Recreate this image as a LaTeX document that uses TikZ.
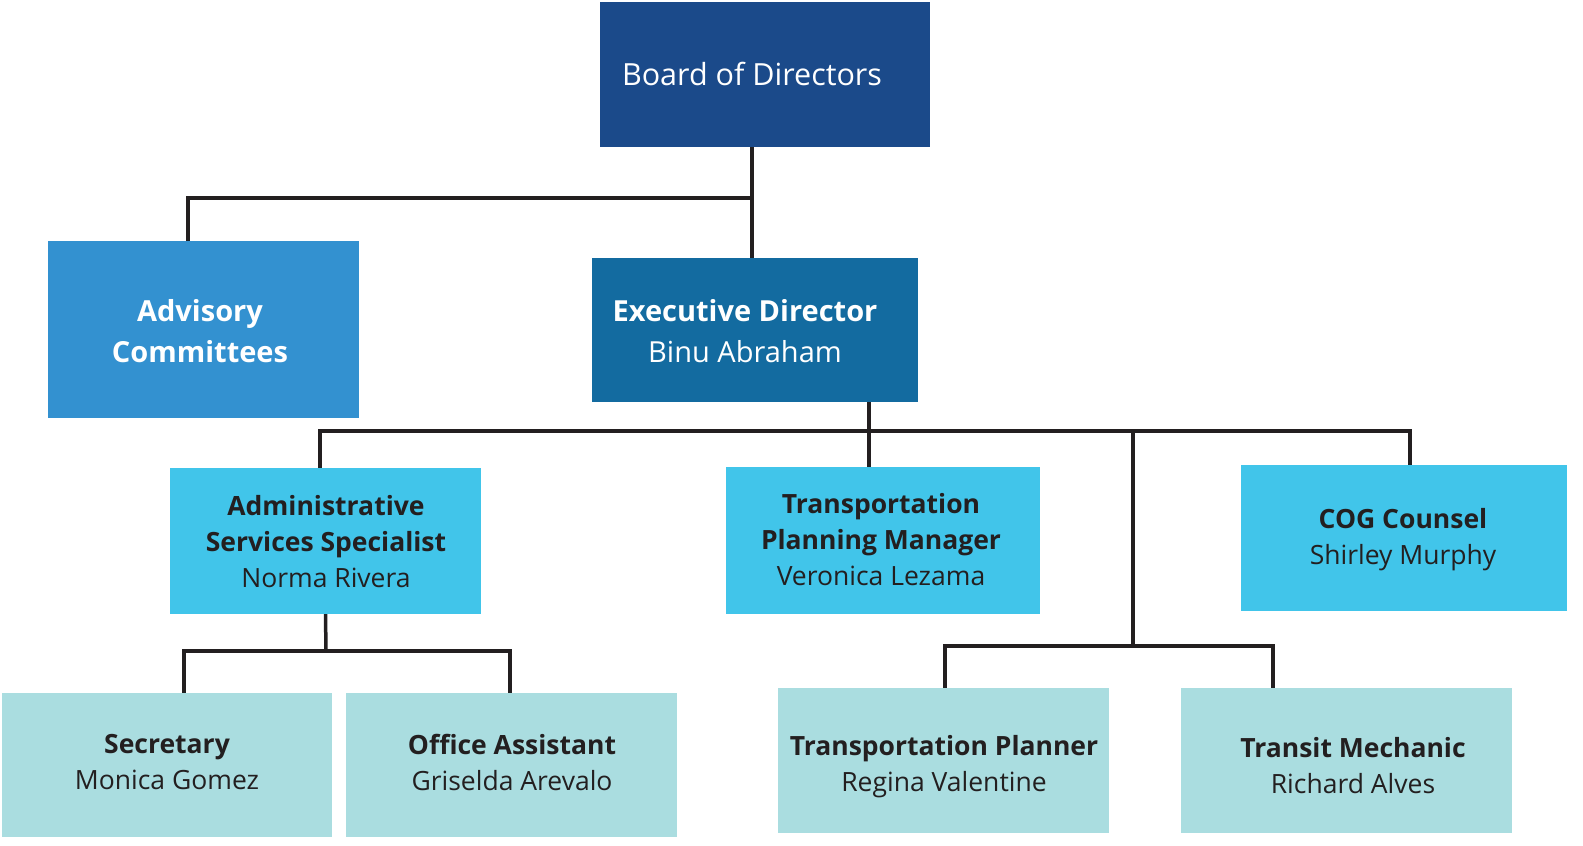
\documentclass[tikz,border=0pt]{standalone}
\usepackage{fontspec}
\setmainfont{Open Sans}
\definecolor{cBoard}{HTML}{1B4A8A}
\definecolor{cAdv}{HTML}{3391D0}
\definecolor{cExec}{HTML}{136BA0}
\definecolor{cCyan}{HTML}{41C5EA}
\definecolor{cLight}{HTML}{AADDE0}
\definecolor{cInk}{HTML}{231F20}
\tikzset{
  box/.style={rectangle, inner sep=0pt, draw=none},
  conn/.style={draw=cInk, line width=3.5pt},
  wtxt/.style={align=center, text=white, inner sep=0pt, font=\fontsize{29}{41}\selectfont},
  dtxt/.style={align=center, text=cInk, inner sep=0pt, font=\fontsize{26.5}{36}\selectfont},
}
\begin{document}
\begin{tikzpicture}[x=1pt,y=-1pt]
\useasboundingbox (0,0) rectangle (1583,846);
% boxes
\node[box, fill=cBoard, minimum width=330pt, minimum height=145pt] (board) at (765,74.5) {};
\node[box, fill=cAdv, minimum width=311pt, minimum height=177pt] (adv) at (203.5,329.5) {};
\node[box, fill=cExec, minimum width=326pt, minimum height=144pt] (exec) at (755,330) {};
\node[box, fill=cCyan, minimum width=311pt, minimum height=146pt] (admin) at (325.5,541) {};
\node[box, fill=cCyan, minimum width=314pt, minimum height=147pt] (tpm) at (883,540.5) {};
\node[box, fill=cCyan, minimum width=326pt, minimum height=146pt] (cog) at (1404,538) {};
\node[box, fill=cLight, minimum width=330pt, minimum height=144pt] (sec) at (167,765) {};
\node[box, fill=cLight, minimum width=331pt, minimum height=144pt] (office) at (511.5,765) {};
\node[box, fill=cLight, minimum width=331pt, minimum height=145pt] (tp) at (943.5,760.5) {};
\node[box, fill=cLight, minimum width=331pt, minimum height=145pt] (mech) at (1346.5,760.5) {};
% junctions
\coordinate (xb) at (752,0);
\coordinate (xa) at (188,0);
\coordinate (j1) at (752,198);
\coordinate (xe) at (869,0);
\coordinate (j2) at (869,431);
\coordinate (xad) at (320,0);
\coordinate (xcog) at (1410,0);
\coordinate (j3) at (1133,431);
\coordinate (j4) at (1133,646);
\coordinate (xtp) at (945,0);
\coordinate (xme) at (1273,0);
\coordinate (j5) at (326,651);
\coordinate (xse) at (184,0);
\coordinate (xof) at (510,0);
% connectors
\draw[conn] (board.south -| xb) -- (exec.north -| xb);
\draw[conn] (j1) -| (adv.north -| xa);
\draw[conn] (exec.south -| xe) -- (tpm.north -| xe);
\draw[conn] (admin.north -| xad) |- (j2) -| (cog.north -| xcog);
\draw[conn] (j3) -- (j4);
\draw[conn] (tp.north -| xtp) |- (j4) -| (mech.north -| xme);
\draw[conn] (admin.south) -- (j5);
\draw[conn] (sec.north -| xse) |- (j5) -| (office.north -| xof);
% texts
\node[wtxt, font=\fontsize{30.5}{40}\selectfont] (board-t) at (752,74) {Board of Directors};
\node[wtxt, font=\fontsize{29}{41}\selectfont\bfseries] (adv-t) at (200,331) {Advisory\\Committees};
\node[wtxt] (exec-t) at (745,331) {\textbf{Executive Director}\\Binu Abraham};
\node[dtxt] (admin-t) at (326,542) {\textbf{Administrative}\\\textbf{Services Specialist}\\Norma Rivera};
\node[dtxt] (tpm-t) at (881,540) {\textbf{Transportation}\\\textbf{Planning Manager}\\Veronica Lezama};
\node[dtxt] (cog-t) at (1403,540) {\textbf{COG Counsel}\\Shirley Murphy};
\node[dtxt] (sec-t) at (167,762) {\textbf{Secretary}\\Monica Gomez};
\node[dtxt] (office-t) at (512,762) {\textbf{Office Assistant}\\Griselda Arevalo};
\node[dtxt] (tp-t) at (944,767) {\textbf{Transportation Planner}\\Regina Valentine};
\node[dtxt] (mech-t) at (1353,766) {\textbf{Transit Mechanic}\\Richard Alves};
\end{tikzpicture}
\end{document}
